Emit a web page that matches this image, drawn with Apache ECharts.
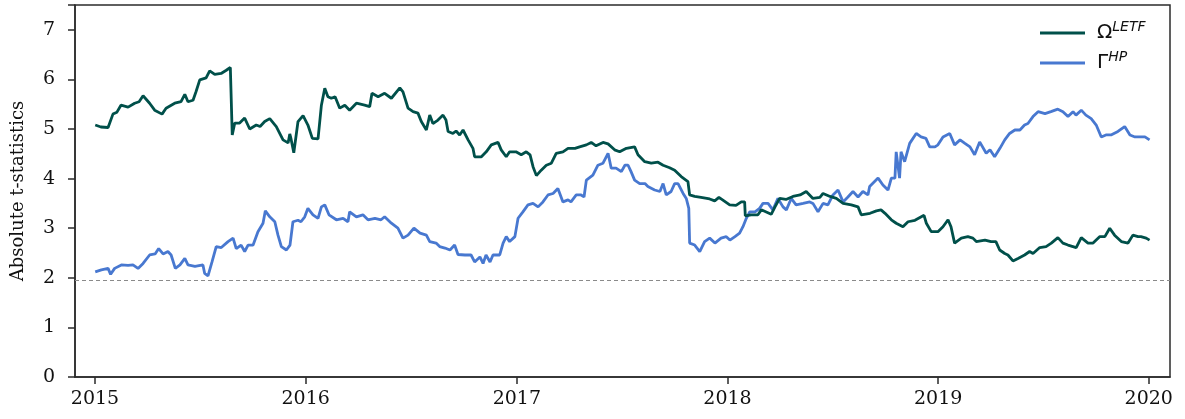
<!DOCTYPE html>
<html>
<head>
<meta charset="utf-8">
<script src="https://cdn.jsdelivr.net/npm/echarts@6/dist/echarts.min.js"></script>
<style>
  html, body { margin: 0; padding: 0; background: #fff; }
  #chart { width: 1185px; height: 419px; }
</style>
</head>
<body>
<div id="chart"></div>
<script>
// dates as decimal years
var letfYears = [2015.001,2015.028,2015.062,2015.071,2015.085,2015.104,2015.123,2015.157,2015.188,2015.209,2015.228,2015.259,2015.283,2015.318,2015.337,2015.378,2015.408,2015.426,2015.441,2015.465,2015.479,2015.497,2015.527,2015.544,2015.568,2015.598,2015.621,2015.642,2015.651,2015.663,2015.686,2015.710,2015.734,2015.765,2015.783,2015.805,2015.829,2015.860,2015.892,2015.916,2015.924,2015.930,2015.943,2015.963,2015.987,
  2016.010,2016.031,2016.058,2016.074,2016.090,2016.105,2016.121,2016.139,2016.161,2016.185,2016.208,2016.240,2016.248,2016.279,2016.303,2016.314,2016.343,2016.374,2016.406,2016.446,2016.461,2016.485,2016.509,2016.532,2016.548,2016.572,2016.588,2016.603,2016.627,2016.651,2016.665,2016.675,2016.698,2016.713,2016.730,2016.746,2016.770,2016.793,2016.801,2016.833,2016.856,2016.880,2016.888,2016.912,2016.927,2016.951,2016.967,2016.997,
  2017.022,2017.046,2017.064,2017.078,2017.094,2017.117,2017.141,2017.165,2017.188,2017.220,2017.244,2017.277,2017.299,2017.331,2017.354,2017.377,2017.410,2017.434,2017.465,2017.489,2017.521,2017.529,2017.560,2017.576,2017.608,2017.639,2017.671,2017.695,2017.726,2017.750,2017.781,2017.813,2017.821,2017.845,2017.875,2017.916,2017.940,2017.960,2017.984,
  2018.011,2018.041,2018.066,2018.082,2018.085,2018.113,2018.145,2018.161,2018.169,2018.208,2018.226,2018.248,2018.278,2018.311,2018.345,2018.374,2018.406,2018.439,2018.454,2018.487,2018.517,2018.549,2018.588,2018.620,2018.635,2018.677,2018.707,2018.729,2018.748,2018.778,2018.801,2018.809,2018.833,2018.857,2018.890,2018.920,2018.933,2018.944,2018.967,2018.999,
  2019.023,2019.047,2019.061,2019.078,2019.110,2019.141,2019.165,2019.181,2019.222,2019.251,2019.274,2019.292,2019.316,2019.331,2019.355,2019.379,2019.410,2019.434,2019.450,2019.482,2019.512,2019.537,2019.568,2019.592,2019.616,2019.655,2019.679,2019.711,2019.735,2019.766,2019.791,2019.814,2019.837,2019.869,2019.901,2019.924,2019.948,2019.962,2019.987,2020.003];
var letfVals = [5.08,5.04,5.03,5.06,5.30,5.34,5.48,5.44,5.52,5.55,5.67,5.52,5.38,5.30,5.42,5.52,5.55,5.70,5.55,5.58,5.75,5.99,6.03,6.17,6.10,6.12,6.18,6.24,4.88,5.12,5.12,5.22,5.00,5.08,5.05,5.15,5.21,5.05,4.78,4.72,4.90,4.80,4.52,5.15,5.27,
  5.08,4.81,4.80,5.48,5.82,5.65,5.62,5.65,5.42,5.48,5.38,5.52,5.55,5.48,5.45,5.72,5.65,5.72,5.62,5.83,5.75,5.42,5.35,5.32,5.15,4.98,5.28,5.11,5.18,5.28,5.18,4.95,4.91,4.96,4.88,4.98,4.78,4.61,4.44,4.44,4.54,4.68,4.71,4.73,4.58,4.44,4.54,4.54,
  4.48,4.54,4.48,4.24,4.06,4.17,4.27,4.31,4.51,4.54,4.61,4.61,4.64,4.68,4.73,4.66,4.73,4.70,4.58,4.54,4.61,4.64,4.64,4.48,4.34,4.31,4.33,4.27,4.22,4.17,4.04,3.94,3.67,3.64,3.62,3.59,3.55,3.62,3.55,
  3.47,3.46,3.53,3.53,3.25,3.27,3.27,3.37,3.35,3.28,3.43,3.60,3.58,3.64,3.67,3.74,3.60,3.62,3.70,3.64,3.60,3.50,3.47,3.43,3.27,3.30,3.35,3.37,3.30,3.17,3.10,3.13,3.03,3.13,3.16,3.23,3.26,3.10,2.93,2.93,
  3.03,3.17,3.03,2.70,2.80,2.83,2.80,2.73,2.76,2.73,2.73,2.56,2.49,2.46,2.34,2.39,2.46,2.53,2.49,2.61,2.63,2.70,2.81,2.70,2.66,2.61,2.81,2.70,2.70,2.83,2.83,3.00,2.86,2.73,2.70,2.86,2.83,2.83,2.80,2.76];

var hpYears = [2015.001,2015.030,2015.062,2015.074,2015.093,2015.125,2015.157,2015.180,2015.204,2015.228,2015.259,2015.285,2015.302,2015.323,2015.346,2015.361,2015.381,2015.403,2015.426,2015.441,2015.474,2015.512,2015.520,2015.536,2015.555,2015.575,2015.599,2015.631,2015.655,2015.670,2015.693,2015.710,2015.726,2015.750,2015.773,2015.797,2015.808,2015.829,2015.853,2015.868,2015.884,2015.908,2015.925,2015.939,2015.963,2015.977,2015.995,
  2016.010,2016.034,2016.058,2016.074,2016.090,2016.110,2016.145,2016.177,2016.200,2016.208,2016.240,2016.248,2016.271,2016.295,2016.328,2016.357,2016.374,2016.406,2016.437,2016.461,2016.485,2016.513,2016.542,2016.572,2016.588,2016.618,2016.635,2016.660,2016.684,2016.706,2016.722,2016.755,2016.784,2016.801,2016.826,2016.841,2016.855,2016.874,2016.888,2016.920,2016.936,2016.951,2016.967,2016.992,
  2017.007,2017.030,2017.054,2017.078,2017.102,2017.125,2017.149,2017.173,2017.196,2017.220,2017.244,2017.258,2017.283,2017.306,2017.320,2017.331,2017.362,2017.386,2017.410,2017.434,2017.449,2017.472,2017.497,2017.514,2017.529,2017.543,2017.560,2017.584,2017.609,2017.623,2017.655,2017.680,2017.695,2017.710,2017.733,2017.750,2017.766,2017.790,2017.805,2017.817,2017.821,2017.845,2017.869,2017.892,2017.916,2017.941,2017.970,2017.995,
  2018.012,2018.036,2018.058,2018.074,2018.090,2018.106,2018.131,2018.153,2018.169,2018.193,2018.216,2018.240,2018.264,2018.280,2018.303,2018.326,2018.359,2018.391,2018.406,2018.430,2018.454,2018.477,2018.501,2018.525,2018.549,2018.572,2018.596,2018.620,2018.643,2018.667,2018.675,2018.715,2018.738,2018.762,2018.778,2018.795,2018.801,2018.809,2018.817,2018.824,2018.841,2018.865,2018.896,2018.919,2018.942,2018.960,2018.985,2018.999,
  2019.023,2019.055,2019.078,2019.104,2019.127,2019.151,2019.173,2019.197,2019.228,2019.246,2019.268,2019.293,2019.316,2019.339,2019.364,2019.388,2019.410,2019.426,2019.450,2019.474,2019.507,2019.535,2019.568,2019.592,2019.616,2019.640,2019.654,2019.679,2019.701,2019.726,2019.750,2019.774,2019.796,2019.820,2019.853,2019.885,2019.910,2019.934,2019.958,2019.981,2020.003];
var hpVals = [2.12,2.16,2.19,2.07,2.19,2.26,2.25,2.26,2.19,2.29,2.46,2.48,2.59,2.48,2.53,2.46,2.19,2.26,2.39,2.26,2.23,2.26,2.09,2.04,2.32,2.63,2.61,2.73,2.80,2.59,2.66,2.53,2.66,2.66,2.93,3.10,3.35,3.23,3.13,2.86,2.63,2.56,2.66,3.13,3.16,3.13,3.23,
  3.40,3.27,3.20,3.43,3.47,3.27,3.17,3.20,3.13,3.33,3.23,3.20,3.27,3.17,3.20,3.17,3.23,3.10,3.00,2.80,2.86,3.00,2.90,2.86,2.73,2.70,2.63,2.60,2.56,2.66,2.47,2.46,2.46,2.32,2.42,2.29,2.46,2.32,2.46,2.46,2.70,2.83,2.73,2.83,
  3.20,3.33,3.47,3.50,3.43,3.53,3.67,3.70,3.80,3.53,3.57,3.53,3.67,3.67,3.63,3.97,4.07,4.27,4.31,4.51,4.21,4.21,4.14,4.27,4.27,4.14,3.97,3.90,3.90,3.84,3.77,3.74,3.90,3.67,3.74,3.90,3.90,3.70,3.60,3.40,2.70,2.66,2.53,2.73,2.80,2.70,2.80,2.83,
  2.76,2.83,2.90,3.03,3.20,3.33,3.33,3.40,3.50,3.50,3.37,3.60,3.43,3.37,3.60,3.47,3.50,3.53,3.50,3.33,3.50,3.47,3.67,3.77,3.53,3.63,3.74,3.63,3.74,3.67,3.84,4.01,3.87,3.77,4.01,4.01,4.54,4.54,4.01,4.54,4.34,4.71,4.91,4.84,4.81,4.64,4.64,4.68,
  4.84,4.91,4.68,4.78,4.71,4.64,4.48,4.74,4.51,4.58,4.44,4.61,4.78,4.91,4.98,4.98,5.08,5.11,5.25,5.35,5.31,5.35,5.40,5.35,5.25,5.35,5.28,5.38,5.28,5.21,5.08,4.84,4.88,4.88,4.95,5.05,4.88,4.84,4.84,4.84,4.78];

var yTicks = [0, 1, 2, 3, 4, 5, 6, 7];
var critical = 1.96;

function toTime(yr) {
    return Date.UTC(2015, 0, 1) + (yr - 2015) * 365.25 * 86400000;
}
function pairs(xs, ys) {
    var out = [];
    for (var i = 0, len = xs.length; i < len; i++) {
        out.push([toTime(xs[i]), ys[i]]);
    }
    return out;
}

var serif = 'DejaVu Serif';
var chart = echarts.init(document.getElementById('chart'), null, { renderer: 'canvas' });
chart.setOption({
    useUTC: true,
    animation: false,
    backgroundColor: '#fff',
    grid: {
        left: 75, right: 15, top: 5, bottom: 42,
        show: true, borderColor: '#2b2b2b', borderWidth: 1.5
    },
    legend: {
        orient: 'vertical',
        left: 1035,
        top: 15,
        itemWidth: 45,
        itemHeight: 3,
        itemGap: 7,
        icon: 'rect',
        data: ['letf', 'hp'],
        formatter: function (name) {
            return name === 'letf' ? '{b|Ω}{s|LETF}' : '{b|Γ}{s|HP}';
        },
        textStyle: {
            rich: {
                b: { fontFamily: 'DejaVu Sans', fontSize: 20, color: '#111', lineHeight: 26, padding: [0, 0, 0, 7] },
                s: { fontFamily: 'DejaVu Sans', fontStyle: 'italic', fontSize: 14, color: '#111', verticalAlign: 'top', lineHeight: 16 }
            }
        }
    },
    xAxis: {
        type: 'time',
        min: toTime(2014.905),
        max: toTime(2020.100),
        minInterval: 365 * 86400000,
        maxInterval: 366 * 86400000,
        axisLine: { show: true, lineStyle: { color: '#2b2b2b', width: 1.5 } },
        axisTick: { show: true, length: 7, lineStyle: { color: '#2b2b2b', width: 1.5 } },
        axisLabel: {
            fontFamily: serif, fontSize: 19, color: '#111', margin: 13,
            formatter: function (v) { return String(new Date(v).getUTCFullYear()); }
        },
        splitLine: { show: false }
    },
    yAxis: {
        type: 'value',
        min: 0, max: 7.5, interval: 1,
        name: 'Absolute t-statistics',
        nameLocation: 'middle',
        nameGap: 48,
        nameTextStyle: { fontFamily: serif, fontSize: 18, color: '#111' },
        axisLine: { show: true, lineStyle: { color: '#2b2b2b', width: 1.5 } },
        axisTick: { show: true, length: 7, lineStyle: { color: '#2b2b2b', width: 1.5 } },
        axisLabel: {
            fontFamily: serif, fontSize: 19, color: '#111', margin: 20,
            formatter: function (v) { return yTicks.indexOf(v) >= 0 ? String(v) : ''; }
        },
        splitLine: { show: false }
    },
    series: [
        {
            name: 'letf',
            type: 'line',
            showSymbol: false,
            data: pairs(letfYears, letfVals),
            lineStyle: { color: '#00504a', width: 2.8 },
            itemStyle: { color: '#00504a' },
            z: 3,
            markLine: {
                silent: true,
                symbol: 'none',
                label: { show: false },
                lineStyle: { color: '#8a8a8a', type: [4, 3], width: 1 },
                data: [{ yAxis: critical }]
            }
        },
        {
            name: 'hp',
            type: 'line',
            showSymbol: false,
            data: pairs(hpYears, hpVals),
            lineStyle: { color: '#4878d0', width: 2.8 },
            itemStyle: { color: '#4878d0' },
            z: 2
        }
    ]
});
</script>
</body>
</html>
